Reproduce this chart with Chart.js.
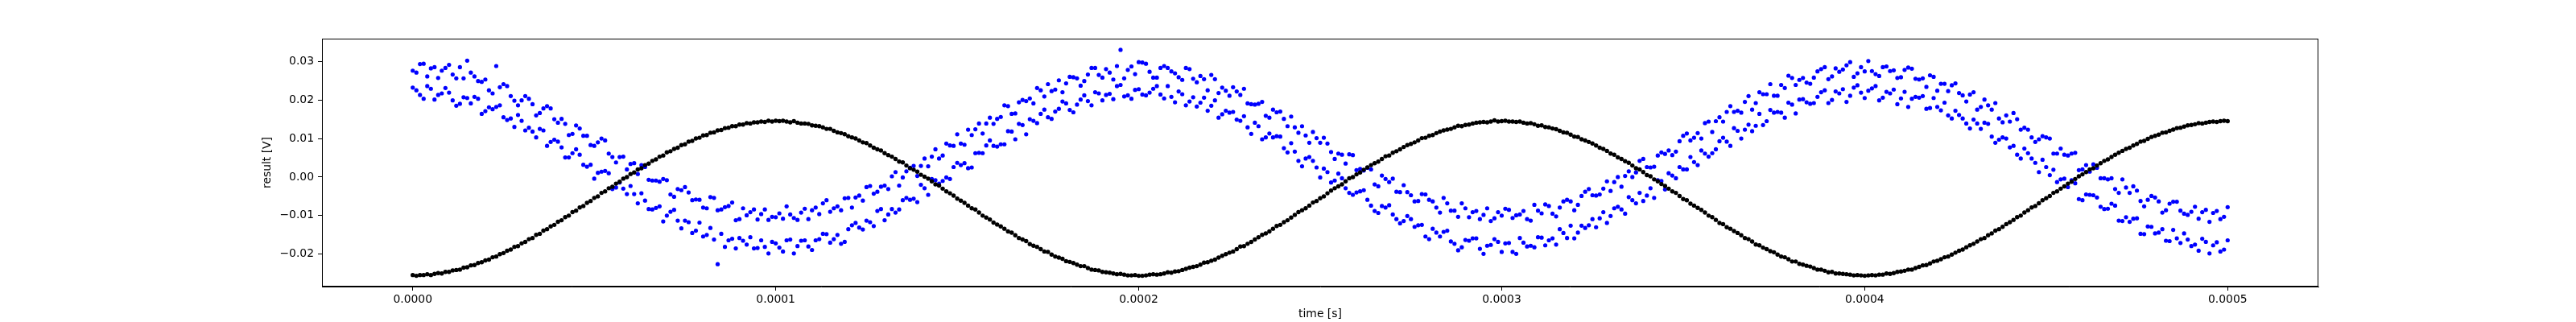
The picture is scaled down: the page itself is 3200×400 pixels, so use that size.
<!DOCTYPE html>
<html>
<head>
<meta charset="utf-8">
<script src="https://cdn.jsdelivr.net/npm/chart.js@4.4.1/dist/chart.umd.min.js"></script>
<style>
  html, body { margin: 0; padding: 0; background: #fff; }
  #chart { display: block; }
</style>
</head>
<body>
<canvas id="chart" width="3200" height="400"></canvas>
<script>
// sample timing (seconds)
const BLACK_T0 = 0, BLACK_DT = 1e-6;
const EVEN_T0 = 0, ODD_T0 = 1e-6, BLUE_DT = 2e-6;

// black trace, one sample per microsecond, 0 .. 500 us
const blackValues = [
  -0.0254,-0.0256,-0.0254,-0.0254,-0.0252,-0.0254,-0.0251,-0.0249,-0.0250,-0.0246,
  -0.0246,-0.0242,-0.0241,-0.0240,-0.0235,-0.0234,-0.0229,-0.0228,-0.0223,-0.0221,
  -0.0216,-0.0214,-0.0208,-0.0206,-0.0200,-0.0197,-0.0191,-0.0188,-0.0181,-0.0179,
  -0.0172,-0.0168,-0.0161,-0.0158,-0.0150,-0.0147,-0.0139,-0.0135,-0.0128,-0.0124,
  -0.0116,-0.0112,-0.0104,-0.0100,-0.0091,-0.0087,-0.0079,-0.0075,-0.0067,-0.0062,
  -0.0054,-0.0050,-0.0041,-0.0037,-0.0029,-0.0025,-0.0017,-0.0012,-0.0004,0.0000,
  0.0008,0.0012,0.0020,0.0023,0.0031,0.0035,0.0042,0.0046,0.0053,0.0056,
  0.0064,0.0067,0.0073,0.0076,0.0083,0.0085,0.0092,0.0094,0.0100,0.0102,
  0.0108,0.0109,0.0115,0.0116,0.0121,0.0122,0.0127,0.0128,0.0132,0.0132,
  0.0136,0.0136,0.0140,0.0139,0.0142,0.0142,0.0144,0.0143,0.0146,0.0144,
  0.0146,
  0.0145,0.0146,0.0144,0.0142,0.0145,0.0141,0.0139,0.0139,0.0138,0.0134,
  0.0133,0.0132,0.0129,0.0125,0.0125,0.0120,0.0116,0.0114,0.0111,0.0106,
  0.0103,0.0100,0.0095,0.0090,0.0088,0.0082,0.0076,0.0072,0.0069,0.0062,
  0.0057,0.0053,0.0047,0.0040,0.0038,0.0030,0.0023,0.0019,0.0014,0.0006,
  0.0001,-0.0004,-0.0011,-0.0019,-0.0022,-0.0030,-0.0037,-0.0042,-0.0048,-0.0056,
  -0.0061,-0.0067,-0.0074,-0.0081,-0.0084,-0.0092,-0.0100,-0.0105,-0.0110,-0.0118,
  -0.0123,-0.0128,-0.0134,-0.0141,-0.0144,-0.0151,-0.0158,-0.0162,-0.0166,-0.0174,
  -0.0178,-0.0181,-0.0187,-0.0193,-0.0194,-0.0201,-0.0206,-0.0209,-0.0212,-0.0218,
  -0.0220,-0.0223,-0.0227,-0.0231,-0.0231,-0.0236,-0.0240,-0.0241,-0.0242,-0.0246,
  -0.0247,-0.0248,-0.0250,-0.0252,-0.0251,-0.0253,-0.0255,-0.0255,-0.0254,-0.0256,
  -0.0256,-0.0255,-0.0253,-0.0252,-0.0253,-0.0252,-0.0250,-0.0247,-0.0248,-0.0245,
  -0.0244,-0.0241,-0.0238,-0.0235,-0.0233,-0.0231,-0.0227,-0.0222,-0.0221,-0.0217,
  -0.0214,-0.0209,-0.0204,-0.0200,-0.0196,-0.0193,-0.0187,-0.0180,-0.0179,-0.0173,
  -0.0168,-0.0162,-0.0156,-0.0150,-0.0146,-0.0141,-0.0134,-0.0127,-0.0124,-0.0117,
  -0.0112,-0.0105,-0.0098,-0.0091,-0.0086,-0.0081,-0.0074,-0.0066,-0.0062,-0.0055,
  -0.0050,-0.0042,-0.0035,-0.0029,-0.0024,-0.0019,-0.0011,-0.0003,0.0000,0.0007,
  0.0012,0.0019,0.0025,0.0031,0.0036,0.0040,0.0047,0.0054,0.0056,0.0063,
  0.0067,0.0072,0.0078,0.0083,0.0086,0.0090,0.0095,0.0101,0.0102,0.0107,
  0.0109,0.0114,0.0118,0.0121,0.0123,0.0125,0.0129,0.0133,0.0132,0.0135,
  0.0136,0.0139,0.0141,0.0142,0.0143,0.0142,0.0144,0.0147,0.0144,0.0145,
  0.0146,0.0144,0.0144,0.0143,0.0144,0.0141,0.0139,0.0140,0.0137,0.0133,
  0.0134,0.0130,0.0129,0.0126,0.0124,0.0120,0.0116,0.0115,0.0110,0.0105,
  0.0104,0.0098,0.0095,0.0091,0.0087,0.0082,0.0076,0.0073,0.0068,0.0061,
  0.0058,0.0051,0.0047,0.0041,0.0037,0.0030,0.0023,0.0020,0.0013,0.0005,
  0.0002,-0.0006,-0.0011,-0.0018,-0.0023,-0.0030,-0.0037,-0.0041,-0.0049,-0.0057,
  -0.0060,-0.0069,-0.0074,-0.0080,-0.0085,-0.0092,-0.0100,-0.0104,-0.0111,-0.0119,
  -0.0122,-0.0130,-0.0134,-0.0140,-0.0145,-0.0151,-0.0158,-0.0161,-0.0167,-0.0175,
  -0.0177,-0.0183,-0.0187,-0.0192,-0.0195,-0.0201,-0.0206,-0.0208,-0.0213,-0.0219,
  -0.0219,-0.0225,-0.0227,-0.0230,-0.0232,-0.0236,-0.0240,-0.0240,-0.0243,-0.0247,
  -0.0246,-0.0250,-0.0250,-0.0251,-0.0252,-0.0253,-0.0255,-0.0254,-0.0255,-0.0256,
  -0.0255,-0.0254,-0.0255,-0.0253,-0.0253,-0.0250,-0.0251,-0.0249,-0.0246,-0.0245,
  -0.0243,-0.0240,-0.0240,-0.0236,-0.0233,-0.0229,-0.0228,-0.0224,-0.0219,-0.0217,
  -0.0213,-0.0208,-0.0206,-0.0201,-0.0196,-0.0191,-0.0188,-0.0182,-0.0177,-0.0173,
  -0.0167,-0.0161,-0.0158,-0.0151,-0.0146,-0.0139,-0.0135,-0.0129,-0.0122,-0.0117,
  -0.0111,-0.0104,-0.0100,-0.0092,-0.0086,-0.0079,-0.0075,-0.0068,-0.0060,-0.0055,
  -0.0049,-0.0041,-0.0037,-0.0030,-0.0024,-0.0017,-0.0012,-0.0005,0.0002,0.0007,
  0.0013,0.0020,0.0023,0.0030,0.0036,0.0042,0.0046,0.0052,0.0058,0.0063,
  0.0068,0.0073,0.0076,0.0082,0.0086,0.0092,0.0094,0.0099,0.0104,0.0107,
  0.0110,0.0115,0.0116,0.0120,0.0123,0.0127,0.0128,0.0131,0.0134,0.0135,
  0.0137,0.0140,0.0139,0.0141,0.0143,0.0144,0.0143,0.0145,0.0146,0.0145
];

// blue trace, lower band, even microseconds 0 .. 500 us
const blueLowerEven = [
  0.0232,0.0213,0.0236,0.0201,0.0217,0.0219,0.0185,0.0207,0.0191,0.0203,
  0.0171,0.0176,0.0186,0.0148,0.0130,0.0146,0.0128,0.0103,0.0121,0.0091,
  0.0092,0.0051,0.0062,0.0058,0.0027,-0.0004,0.0014,0.0010,-0.0027,-0.0030,
  -0.0023,-0.0068,-0.0061,-0.0084,-0.0076,-0.0100,-0.0085,-0.0133,-0.0117,-0.0139,
  -0.0154,-0.0132,-0.0226,-0.0181,-0.0160,-0.0158,-0.0175,-0.0185,-0.0164,-0.0198,
  -0.0172,
  -0.0193,-0.0162,-0.0179,-0.0164,-0.0189,-0.0161,-0.0148,-0.0161,-0.0173,-0.0135,
  -0.0119,-0.0136,-0.0117,-0.0088,-0.0112,-0.0083,-0.0084,-0.0054,-0.0056,-0.0020,
  -0.0046,-0.0008,-0.0010,-0.0005,0.0037,0.0036,0.0025,0.0063,0.0082,0.0081,
  0.0085,0.0119,0.0098,0.0135,0.0150,0.0140,0.0175,0.0151,0.0177,0.0191,
  0.0168,0.0201,0.0197,0.0220,0.0199,0.0216,0.0236,0.0209,0.0203,0.0228,
  0.0212,0.0229,0.0214,0.0236,0.0194,0.0215,0.0196,0.0183,0.0206,0.0185,
  0.0154,0.0172,0.0169,0.0146,0.0129,0.0141,0.0098,0.0113,0.0106,0.0075,
  0.0088,0.0042,0.0048,0.0042,-0.0001,0.0013,-0.0009,-0.0003,-0.0041,-0.0040,
  -0.0034,-0.0074,-0.0093,-0.0079,-0.0097,-0.0120,-0.0101,-0.0129,-0.0124,-0.0161,
  -0.0144,-0.0142,-0.0167,-0.0190,-0.0163,-0.0159,-0.0186,-0.0178,-0.0161,-0.0194,
  -0.0171,-0.0199,-0.0170,-0.0178,-0.0156,-0.0177,-0.0159,-0.0135,-0.0158,-0.0159,
  -0.0126,-0.0125,-0.0130,-0.0091,-0.0101,-0.0077,-0.0095,-0.0060,-0.0041,-0.0048,
  -0.0054,-0.0010,0.0010,-0.0003,0.0020,0.0052,0.0031,0.0061,0.0062,0.0093,
  0.0092,0.0127,0.0100,0.0136,0.0133,0.0135,0.0174,0.0169,0.0154,0.0188,
  0.0201,0.0194,0.0192,0.0220,0.0192,0.0222,0.0228,0.0211,0.0238,0.0205,
  0.0230,0.0199,0.0221,0.0227,0.0204,0.0182,0.0208,0.0210,0.0179,0.0182,
  0.0193,0.0152,0.0161,0.0139,0.0149,0.0125,0.0138,0.0089,0.0103,0.0077,
  0.0058,0.0074,0.0048,0.0013,0.0026,0.0019,-0.0006,-0.0026,-0.0016,-0.0060,
  -0.0046,-0.0053,-0.0083,-0.0069,-0.0113,-0.0104,-0.0108,-0.0147,-0.0128,-0.0146,
  -0.0135,-0.0166,-0.0159,-0.0146,-0.0179,-0.0191,-0.0168,-0.0177,-0.0193,-0.0164
];

// blue trace, lower band, odd microseconds 1 .. 499 us
const blueLowerOdd = [
  0.0225,0.0203,0.0229,0.0213,0.0231,0.0199,0.0190,0.0205,0.0208,0.0164,
  0.0181,0.0182,0.0155,0.0152,0.0161,0.0121,0.0118,0.0125,0.0081,0.0097,
  0.0077,0.0051,0.0072,0.0032,0.0032,0.0011,0.0016,-0.0031,-0.0014,-0.0044,
  -0.0044,-0.0042,-0.0083,-0.0080,-0.0115,-0.0090,-0.0113,-0.0113,-0.0145,-0.0118,
  -0.0150,-0.0162,-0.0147,-0.0164,-0.0185,-0.0165,-0.0156,-0.0184,-0.0181,-0.0168,
  -0.0183,-0.0164,-0.0198,-0.0165,-0.0180,-0.0164,-0.0147,-0.0170,-0.0150,-0.0168,
  -0.0125,-0.0131,-0.0113,-0.0127,-0.0083,-0.0097,-0.0092,-0.0060,-0.0059,-0.0065,
  -0.0029,-0.0005,-0.0017,-0.0001,0.0026,0.0031,0.0023,0.0062,0.0062,0.0095,
  0.0079,0.0085,0.0118,0.0138,0.0111,0.0146,0.0164,0.0155,0.0170,0.0196,
  0.0174,0.0188,0.0212,0.0186,0.0217,0.0213,0.0202,0.0239,0.0212,0.0226,
  0.0214,0.0219,0.0236,0.0204,0.0208,0.0222,0.0186,0.0207,0.0193,0.0172,
  0.0199,0.0163,0.0167,0.0149,0.0158,0.0112,0.0132,0.0103,0.0103,0.0105,
  0.0064,0.0066,0.0028,0.0052,0.0025,0.0022,-0.0014,0.0009,-0.0029,-0.0046,
  -0.0037,-0.0059,-0.0088,-0.0075,-0.0073,-0.0109,-0.0114,-0.0109,-0.0125,-0.0154,
  -0.0134,-0.0154,-0.0139,-0.0173,-0.0182,-0.0165,-0.0159,-0.0199,-0.0176,-0.0168,
  -0.0172,-0.0194,-0.0158,-0.0180,-0.0182,-0.0157,-0.0164,-0.0175,-0.0145,-0.0126,
  -0.0144,-0.0132,-0.0109,-0.0107,-0.0119,-0.0081,-0.0084,-0.0052,-0.0068,-0.0062,
  -0.0029,-0.0008,-0.0032,0.0004,0.0026,0.0020,0.0039,0.0069,0.0053,0.0072,
  0.0102,0.0081,0.0120,0.0123,0.0119,0.0164,0.0145,0.0167,0.0167,0.0193,
  0.0165,0.0202,0.0190,0.0208,0.0225,0.0200,0.0217,0.0195,0.0232,0.0219,
  0.0224,0.0236,0.0206,0.0217,0.0189,0.0221,0.0203,0.0206,0.0177,0.0205,
  0.0173,0.0160,0.0172,0.0152,0.0126,0.0139,0.0141,0.0105,0.0097,0.0100,
  0.0081,0.0048,0.0062,0.0037,0.0045,0.0005,-0.0013,-0.0004,-0.0008,-0.0057,
  -0.0045,-0.0047,-0.0077,-0.0082,-0.0074,-0.0114,-0.0116,-0.0107,-0.0148,-0.0129,
  -0.0144,-0.0165,-0.0137,-0.0171,-0.0162,-0.0175,-0.0160,-0.0198,-0.0169,-0.0188
];

// blue trace, upper band, odd microseconds 1 .. 499 us
const blueUpperOdd = [
  0.0271,0.0294,0.0282,0.0257,0.0283,0.0266,0.0285,0.0302,0.0261,0.0247,
  0.0225,0.0288,0.0241,0.0210,0.0186,0.0210,0.0189,0.0166,0.0184,0.0150,
  0.0151,0.0109,0.0134,0.0107,0.0083,0.0090,0.0095,0.0052,0.0052,0.0020,
  0.0036,0.0031,-0.0007,-0.0009,-0.0005,-0.0045,-0.0031,-0.0026,-0.0060,-0.0059,
  -0.0081,-0.0054,-0.0084,-0.0075,-0.0112,-0.0081,-0.0091,-0.0110,-0.0084,-0.0103,
  -0.0094,-0.0076,-0.0106,-0.0092,-0.0109,-0.0079,-0.0068,-0.0090,-0.0076,-0.0055,
  -0.0079,-0.0048,-0.0026,-0.0043,-0.0025,-0.0031,0.0013,-0.0001,0.0024,0.0003,
  0.0048,0.0053,0.0048,0.0087,0.0081,0.0087,0.0123,0.0124,0.0113,0.0154,
  0.0151,0.0186,0.0164,0.0194,0.0197,0.0191,0.0225,0.0241,0.0227,0.0220,
  0.0260,0.0256,0.0249,0.0283,0.0265,0.0280,0.0253,0.0330,0.0278,0.0267,
  0.0297,0.0273,0.0258,0.0288,0.0274,0.0259,0.0283,0.0255,0.0262,0.0225,
  0.0254,0.0232,0.0211,0.0222,0.0229,0.0189,0.0190,0.0159,0.0175,0.0170,
  0.0132,0.0129,0.0132,0.0089,0.0101,0.0102,0.0065,0.0061,0.0035,0.0057,
  0.0021,0.0024,-0.0019,0.0004,-0.0013,-0.0038,-0.0021,-0.0047,-0.0062,-0.0045,
  -0.0063,-0.0092,-0.0068,-0.0087,-0.0068,-0.0104,-0.0088,-0.0098,-0.0114,-0.0091,
  -0.0082,-0.0106,-0.0097,-0.0109,-0.0072,-0.0094,-0.0075,-0.0102,-0.0063,-0.0063,
  -0.0072,-0.0038,-0.0047,-0.0045,-0.0011,-0.0013,-0.0025,0.0015,0.0012,0.0047,
  0.0025,0.0056,0.0060,0.0057,0.0093,0.0113,0.0102,0.0100,0.0144,0.0145,
  0.0144,0.0184,0.0172,0.0195,0.0175,0.0220,0.0215,0.0211,0.0239,0.0263,
  0.0239,0.0257,0.0242,0.0274,0.0285,0.0261,0.0273,0.0290,0.0260,0.0285,
  0.0301,0.0267,0.0285,0.0275,0.0257,0.0278,0.0281,0.0253,0.0234,0.0260,
  0.0242,0.0223,0.0243,0.0212,0.0214,0.0175,0.0201,0.0175,0.0152,0.0160,
  0.0166,0.0123,0.0123,0.0091,0.0106,0.0100,0.0061,0.0058,0.0061,0.0018,
  0.0031,0.0033,-0.0003,-0.0006,-0.0031,-0.0006,-0.0041,-0.0035,-0.0076,-0.0049,
  -0.0063,-0.0086,-0.0064,-0.0087,-0.0098,-0.0077,-0.0091,-0.0116,-0.0088,-0.0103
];

// blue trace, upper band, even microseconds 0 .. 500 us
const blueUpperEven = [
  0.0276,0.0293,0.0261,0.0285,0.0276,0.0291,0.0256,0.0256,0.0271,0.0249,
  0.0253,0.0217,0.0233,0.0236,0.0198,0.0199,0.0203,0.0160,0.0178,0.0178,
  0.0141,0.0138,0.0112,0.0126,0.0107,0.0081,0.0100,0.0061,0.0038,0.0053,
  0.0034,0.0008,0.0026,-0.0009,-0.0012,-0.0008,-0.0051,-0.0034,-0.0040,-0.0058,
  -0.0079,-0.0052,-0.0086,-0.0078,-0.0066,-0.0109,-0.0099,-0.0084,-0.0096,-0.0111,
  -0.0104,
  -0.0108,-0.0097,-0.0111,-0.0082,-0.0086,-0.0096,-0.0060,-0.0081,-0.0086,-0.0054,
  -0.0053,-0.0061,-0.0023,-0.0038,-0.0022,0.0002,-0.0022,0.0015,0.0029,0.0029,
  0.0028,0.0072,0.0056,0.0082,0.0111,0.0084,0.0109,0.0139,0.0139,0.0138,
  0.0156,0.0184,0.0165,0.0200,0.0204,0.0231,0.0209,0.0223,0.0251,0.0243,
  0.0259,0.0237,0.0266,0.0283,0.0258,0.0271,0.0288,0.0256,0.0287,0.0298,
  0.0294,0.0258,0.0283,0.0283,0.0269,0.0252,0.0280,0.0246,0.0254,0.0265,
  0.0218,0.0224,0.0233,0.0213,0.0191,0.0188,0.0195,0.0154,0.0168,0.0151,
  0.0157,0.0115,0.0108,0.0117,0.0089,0.0087,0.0047,0.0058,0.0059,0.0018,
  0.0017,0.0020,-0.0024,-0.0005,-0.0004,-0.0039,-0.0039,-0.0063,-0.0044,-0.0059,
  -0.0079,-0.0054,-0.0087,-0.0103,-0.0081,-0.0091,-0.0109,-0.0081,-0.0107,-0.0100,
  -0.0085,-0.0099,-0.0088,-0.0113,-0.0087,-0.0071,-0.0095,-0.0079,-0.0059,-0.0086,
  -0.0049,-0.0031,-0.0048,-0.0030,-0.0036,0.0000,0.0003,0.0000,0.0042,0.0026,
  0.0027,0.0064,0.0069,0.0066,0.0107,0.0095,0.0114,0.0140,0.0117,0.0155,
  0.0169,0.0169,0.0167,0.0210,0.0192,0.0215,0.0241,0.0211,0.0231,0.0257,
  0.0252,0.0245,0.0258,0.0280,0.0254,0.0282,0.0279,0.0298,0.0269,0.0274,
  0.0275,0.0262,0.0287,0.0277,0.0259,0.0284,0.0255,0.0256,0.0264,0.0224,
  0.0242,0.0238,0.0218,0.0196,0.0220,0.0182,0.0186,0.0192,0.0142,0.0144,
  0.0150,0.0128,0.0103,0.0098,0.0103,0.0061,0.0074,0.0056,0.0063,0.0020,
  0.0014,0.0024,-0.0003,-0.0003,-0.0041,-0.0027,-0.0024,-0.0062,-0.0059,-0.0053,
  -0.0092,-0.0069,-0.0064,-0.0095,-0.0090,-0.0108,-0.0085,-0.0093,-0.0109,-0.0078
];

// axis ticks and limits
const xTicks = [0, 0.0001, 0.0002, 0.0003, 0.0004, 0.0005];
const yTicks = [-0.02, -0.01, 0.00, 0.01, 0.02, 0.03];
const xRange = [-0.000025, 0.000525];
const yRange = [-0.0284, 0.0359];

const toPoints = (values, t0, dt) => values.map((v, i) => ({ x: t0 + i * dt, y: v }));

const FONT = { family: 'DejaVu Sans', size: 13.9 };

// top/right spines so the axes form a closed box
const frame = {
  id: 'frame',
  afterDraw(chart) {
    const { ctx, chartArea: a } = chart;
    ctx.save();
    ctx.strokeStyle = '#000';
    ctx.lineWidth = 1;
    ctx.strokeRect(Math.round(a.left) + 0.5, Math.round(a.top) + 0.5,
      Math.round(a.right - a.left) - 1, Math.round(a.bottom - a.top) - 1);
    ctx.restore();
  }
};

const blueSet = (label, values, t0) => ({
  label,
  data: toPoints(values, t0, BLUE_DT),
  backgroundColor: '#0000ff',
  borderWidth: 0,
  pointRadius: 2.6,
});

new Chart(document.getElementById('chart'), {
  type: 'scatter',
  data: {
    datasets: [
      {
        label: 'black',
        data: toPoints(blackValues, BLACK_T0, BLACK_DT),
        backgroundColor: '#000000',
        borderWidth: 0,
        pointRadius: 2.7,
      },
      blueSet('blue lower even', blueLowerEven, EVEN_T0),
      blueSet('blue lower odd', blueLowerOdd, ODD_T0),
      blueSet('blue upper odd', blueUpperOdd, ODD_T0),
      blueSet('blue upper even', blueUpperEven, EVEN_T0),
    ]
  },
  options: {
    responsive: false,
    animation: false,
    devicePixelRatio: 1,
    events: [],
    layout: { padding: { left: 320, right: 320, top: 48, bottom: 0 } },
    plugins: { legend: { display: false }, tooltip: { enabled: false } },
    scales: {
      x: {
        type: 'linear',
        min: xRange[0],
        max: xRange[1],
        afterFit: (s) => { s.height = 44; },
        afterBuildTicks: (s) => { s.ticks = xTicks.map(v => ({ value: v })); },
        ticks: {
          color: '#000',
          font: FONT,
          padding: 3,
          maxRotation: 0,
          autoSkip: false,
          callback: (v) => v.toFixed(4),
        },
        grid: { drawOnChartArea: false, drawTicks: true, tickLength: 5, color: '#000', lineWidth: 1 },
        border: { display: true, color: '#000', width: 1 },
        title: { display: true, text: 'time [s]', color: '#000', font: FONT, padding: { top: 0, bottom: 1 } },
      },
      y: {
        type: 'linear',
        min: yRange[0],
        max: yRange[1],
        afterFit: (s) => { s.width = 80; },
        afterBuildTicks: (s) => { s.ticks = yTicks.map(v => ({ value: v })); },
        ticks: {
          color: '#000',
          font: FONT,
          padding: 5,
          autoSkip: false,
          callback: (v) => v.toFixed(2).replace('-', '\u2212'),
        },
        grid: { drawOnChartArea: false, drawTicks: true, tickLength: 5, color: '#000', lineWidth: 1 },
        border: { display: true, color: '#000', width: 1 },
        title: { display: true, text: 'result [V]', color: '#000', font: FONT, padding: { top: 4, bottom: 4 } },
      }
    }
  },
  plugins: [frame]
});
</script>
</body>
</html>
